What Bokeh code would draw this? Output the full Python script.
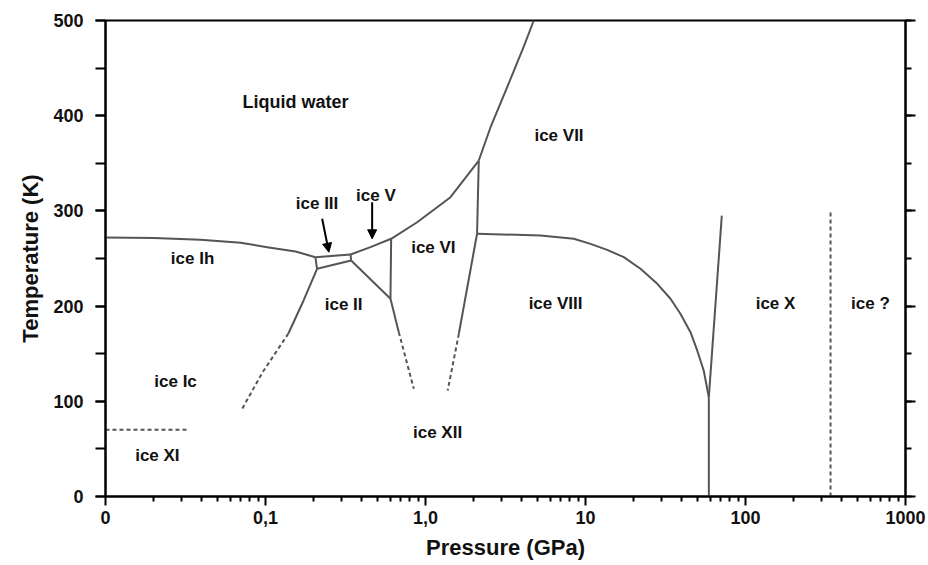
from bokeh.plotting import figure
from bokeh.models import (LinearAxis, FixedTicker, SingleIntervalTicker, Arrow,
                          NormalHead, Range1d, CustomJSTickFormatter)
from bokeh.embed import file_html
from bokeh.resources import INLINE
from bokeh.core.properties import value

# ---------------- data (pressure in GPa, temperature in K) ----------------
x_ticks = [0.01, 0.1, 1, 10, 100, 1000]
x_tick_labels = ["0", "0,1", "1,0", "10", "100", "1000"]

# solid phase boundaries
ih_melt_p = [0.01, 0.02, 0.0393, 0.07, 0.1025, 0.154, 0.205]
ih_melt_t = [272, 271.5, 269.6, 266.5, 261.9, 257.4, 251.4]
iii_melt_p = [0.205, 0.34]
iii_melt_t = [251.4, 254.2]
ih_iii_p = [0.205, 0.210]
ih_iii_t = [251.4, 239.2]
ii_iii_p = [0.210, 0.343]
ii_iii_t = [239.2, 247.9]
iii_v_p = [0.34, 0.343]
iii_v_t = [254.2, 247.9]
v_vi_melt_p = [0.34, 0.453, 0.61, 0.887, 1.433, 2.153]
v_vi_melt_t = [254.2, 261.9, 270.7, 288.1, 314.4, 352.9]
vii_melt_p = [2.153, 2.55, 3.24, 4.10, 4.75]
vii_melt_t = [352.9, 387.9, 429.9, 472.0, 500.0]
ih_ii_p = [0.210, 0.173, 0.139]
ih_ii_t = [239.2, 205.9, 171.2]
ii_v_p = [0.343, 0.604]
ii_v_t = [247.9, 207.7]
v_vi_p = [0.604, 0.61]
v_vi_t = [207.7, 270.7]
ii_vi_p = [0.604, 0.681]
ii_vi_t = [207.7, 172.6]
vi_vii_p = [2.153, 2.10]
vi_vii_t = [352.9, 276.0]
vi_viii_p = [2.10, 1.616]
vi_viii_t = [276.0, 170.9]
vii_viii_p = [2.10, 5.23, 8.45, 10.75, 13.66, 17.35, 22.07, 28.1, 33.97, 39.2, 45.3, 49.9, 54.8, 59.0]
vii_viii_t = [276.0, 274.2, 270.7, 265.4, 259.1, 251.4, 239.2, 223.4, 207.7, 191.9, 172.6, 153.4, 132.4, 104.3]
viii_x_p = [59.0, 59.0]
viii_x_t = [104.3, 0.0]
vii_x_p = [59.0, 71.1]
vii_x_t = [104.3, 295.0]

# dashed (uncertain) boundaries
ih_ii_dash_p = [0.139, 0.0957, 0.0715]
ih_ii_dash_t = [171.2, 130.3, 92.1]
ii_vi_dash_p = [0.681, 0.845]
ii_vi_dash_t = [172.6, 113.1]
vi_viii_dash_p = [1.616, 1.376]
vi_viii_dash_t = [170.9, 111.3]
ice_q_p = [340, 340]
ice_q_t = [0, 300]
ice_xi_p = [0.01, 0.033]
ice_xi_t = [70, 70]

# phase labels
liquid_text = ["Liquid water"]
liquid_p = [0.154]
liquid_t = [414]
label_text = ["ice Ih", "ice Ic", "ice XI", "ice III", "ice V", "ice II",
              "ice VI", "ice XII", "ice VII", "ice VIII", "ice X", "ice ?"]
label_p = [0.035, 0.0274, 0.0211, 0.21, 0.49, 0.308, 1.12, 1.19, 6.83, 6.5, 154, 604]
label_t = [250, 121, 43, 307.5, 316, 201.7, 262, 67, 379, 203, 203, 203]

# arrows (ice III, ice V)
arrow_p0 = [0.226, 0.464]
arrow_t0 = [291.7, 309.0]
arrow_p1 = [0.249, 0.464]
arrow_t1 = [256.6, 270.7]

# ---------------- figure ----------------
FONT = "Liberation Sans"
LINE = "#555555"

p = figure(width=928, height=565, frame_width=800, frame_height=476, x_axis_type="log",
           x_range=Range1d(0.01, 1000), y_range=Range1d(0, 500),
           output_backend="svg", toolbar_location=None,
           min_border_left=105, min_border_right=23, min_border_top=20,
           min_border_bottom=69, background_fill_color="white")
p.xgrid.visible = False
p.ygrid.visible = False
p.outline_line_color = "black"
p.outline_line_width = 2
p.outline_line_alpha = 1

solid_xs = [ih_melt_p, iii_melt_p, ih_iii_p, ii_iii_p, iii_v_p, v_vi_melt_p, vii_melt_p,
            ih_ii_p, ii_v_p, v_vi_p, ii_vi_p, vi_vii_p, vi_viii_p, vii_viii_p, viii_x_p, vii_x_p]
solid_ys = [ih_melt_t, iii_melt_t, ih_iii_t, ii_iii_t, iii_v_t, v_vi_melt_t, vii_melt_t,
            ih_ii_t, ii_v_t, v_vi_t, ii_vi_t, vi_vii_t, vi_viii_t, vii_viii_t, viii_x_t, vii_x_t]
p.multi_line(xs=solid_xs, ys=solid_ys, line_color=LINE, line_width=2, line_join="round")

dash_xs = [ih_ii_dash_p, ii_vi_dash_p, vi_viii_dash_p, ice_q_p, ice_xi_p]
dash_ys = [ih_ii_dash_t, ii_vi_dash_t, vi_viii_dash_t, ice_q_t, ice_xi_t]
p.multi_line(xs=dash_xs, ys=dash_ys, line_color=LINE, line_width=2, line_dash="4 3")

p.text(x=liquid_p, y=liquid_t, text=liquid_text, text_font=value(FONT),
       text_font_style="bold", text_font_size="18px", text_align="center",
       text_baseline="middle", text_color="#111111")
p.text(x=label_p, y=label_t, text=label_text, text_font=value(FONT),
       text_font_style="bold", text_font_size="17px", text_align="center",
       text_baseline="middle", text_color="#111111")

for a in range(len(arrow_p0)):
    p.add_layout(Arrow(end=NormalHead(size=9, fill_color="black", line_color="black"),
                       x_start=arrow_p0[a], y_start=arrow_t0[a],
                       x_end=arrow_p1[a], y_end=arrow_t1[a],
                       line_color="black", line_width=2))

# x axis
minor = [d * k for d in x_ticks[:-1] for k in range(2, 10)]
xa = p.xaxis[0]
xa.ticker = FixedTicker(ticks=x_ticks, minor_ticks=minor)
xa.major_label_overrides = {t: l for t, l in zip(x_ticks, x_tick_labels)}
xa.axis_label = "Pressure (GPa)"

# y axis
ya = p.yaxis[0]
ya.ticker = SingleIntervalTicker(interval=100, num_minor_ticks=2)
ya.axis_label = "Temperature (K)"

# right axis: ticks only, no labels
ra = LinearAxis(ticker=SingleIntervalTicker(interval=100, num_minor_ticks=2),
                formatter=CustomJSTickFormatter(code="return ''"))
p.add_layout(ra, "right")
ra.major_label_standoff = 0
ra.major_tick_out = 10
ra.minor_tick_out = 6

for ax in (xa, ya, ra):
    ax.axis_line_width = 2
    ax.axis_line_color = "black"
    ax.major_tick_line_width = 2
    ax.minor_tick_line_width = 2
    ax.major_tick_line_color = "black"
    ax.minor_tick_line_color = "black"
    ax.major_tick_in = 0
    ax.minor_tick_in = 0
    ax.major_label_text_font = FONT
    ax.major_label_text_font_style = "bold"
    ax.axis_label_text_font = FONT
    ax.axis_label_text_font_style = "bold"
    ax.axis_label_text_color = "#111111"
    ax.major_label_text_color = "#111111"

xa.major_label_text_font_size = "18px"
xa.major_tick_out = 9
xa.minor_tick_out = 5
xa.major_label_standoff = 5
xa.axis_label_text_font_size = "22px"
xa.axis_label_standoff = 8

ya.major_label_text_font_size = "18px"
ya.major_tick_out = 10
ya.minor_tick_out = 10
ya.major_label_standoff = 12
ya.axis_label_text_font_size = "22px"
ya.axis_label_standoff = 7

open("out.html", "w").write(file_html(p, INLINE))
